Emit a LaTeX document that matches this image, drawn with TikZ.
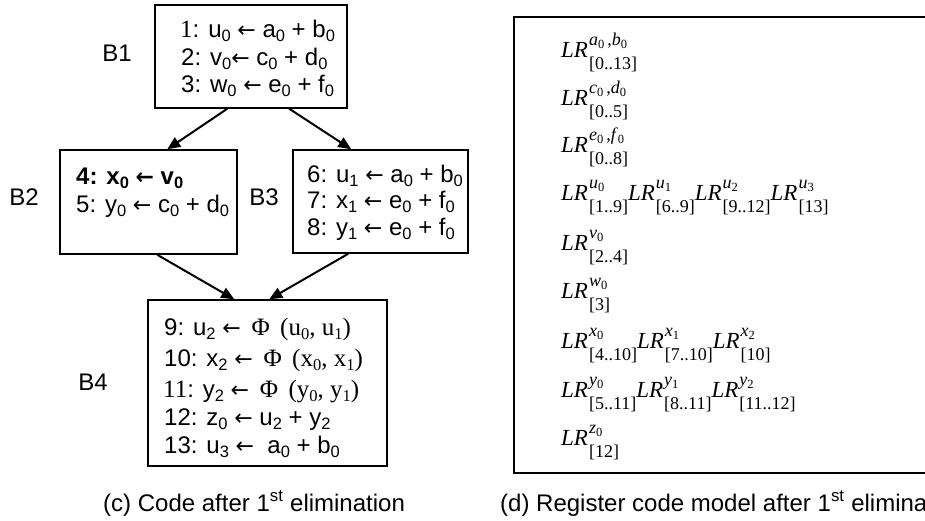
\documentclass[tikz,border=0pt]{standalone}
\usepackage{fontspec}
\setmainfont{Liberation Serif}
\newfontfamily\arial{Liberation Sans}
\newfontfamily\arrowfont{DejaVu Sans}
\usetikzlibrary{arrows.meta}

% subscript digit in the code listings
\newcommand\cs[1]{\raisebox{-4pt}{\fontsize{16.5}{17}\selectfont #1}}
% assignment arrow
\newcommand\ga{{\arrowfont\fontsize{22}{26}\selectfont ←}}
% serif part of a code line (digits, Phi and its arguments)
\newcommand\tm[1]{{\rmfamily\fontsize{25}{28}\selectfont #1}}
% variable with index, as used in the live-range scripts
\newcommand\vs[2]{\textit{#1}\raisebox{-3pt}{\fontsize{12.5}{13}\selectfont #2}}
% live range: LR with variables above and interval below
\newcommand\LRterm[2]{{\itshape LR}\kern1pt%
  \setbox0\hbox{\fontsize{18}{19}\selectfont\raisebox{12pt}{#1}}%
  \setbox2\hbox{\fontsize{18}{19}\selectfont\raisebox{-12.5pt}{#2}}%
  \ifdim\wd0>\wd2 \rlap{\box2}\box0\else\rlap{\box0}\box2\fi}

\begin{document}
\begin{tikzpicture}[x=1pt,y=-1pt,
  block/.style={draw, line width=1.5pt, rectangle, inner sep=0pt},
  code/.style={anchor=base west, inner sep=0pt, font=\arial\fontsize{24}{28}\selectfont},
  blabel/.style={inner sep=0pt, font=\arial\fontsize{24}{28}\selectfont},
  lr/.style={anchor=base west, inner sep=0pt, font=\rmfamily\fontsize{23}{26}\selectfont},
  caption/.style={anchor=base west, inner sep=0pt, font=\arial\fontsize{24}{28}\selectfont},
  flow/.style={line width=2pt, -{Triangle[length=13pt,width=11pt]}}]
\path[use as bounding box] (0,0) rectangle (925,520);

% basic blocks
\node[block, minimum width=192pt, minimum height=103pt] (b1) at (251,56.5) {};
\node[block, minimum width=177pt, minimum height=104pt] (b2) at (148.5,202) {};
\node[block, minimum width=175pt, minimum height=103pt] (b3) at (380.5,201.5) {};
\node[block, minimum width=239pt, minimum height=166pt] (b4) at (267.5,383) {};

% block names
\node[blabel] (nb1) at (117,53) {B1};
\node[blabel] (nb2) at (24,197) {B2};
\node[blabel] (nb3) at (264,197) {B3};
\node[blabel] (nb4) at (93,382) {B4};

% B1
\node[code] (l1) at (180,37) {\tm{1}: u\cs0 \ga\ a\cs0 + b\cs0};
\node[code] (l2) at (181,65) {2: v\cs0\ga\ c\cs0 + d\cs0};
\node[code] (l3) at (181,92) {3: w\cs0 \ga\ e\cs0 + f\cs0};
% B2
\node[code] (l4) at (76,184) {\bfseries 4: x\cs0 {\bfseries\ga}\ v\cs0};
\node[code] (l5) at (76,212) {5: y\cs0 \ga\ c\cs0 + d\cs0};
% B3
\node[code] (l6) at (307,182) {6: u\cs1 \ga\ a\cs0 + b\cs0};
\node[code] (l7) at (307,208) {7: x\cs1 \ga\ e\cs0 + f\cs0};
\node[code] (l8) at (307,235) {8: y\cs1 \ga\ e\cs0 + f\cs0};
% B4
\node[code] (l9) at (164,335) {9: u\cs2 \ga\ \tm{\,Φ\, (u\cs0, u\cs1)}};
\node[code] (l10) at (164,366) {10: x\cs2 \ga\ \tm{\,Φ\, (x\cs0, x\cs1)}};
\node[code] (l11) at (163,397) {\tm{11}: y\cs2 \ga\ \tm{\,Φ\, (y\cs0, y\cs1)}};
\node[code] (l12) at (164,425) {12: z\cs0 \ga\ u\cs2 + y\cs2};
\node[code] (l13) at (164,453) {13: u\cs3 \ga\ \ a\cs0 + b\cs0};

% control flow edges
\draw[flow] ([xshift=73pt]b1.south west) -- ([xshift=108pt]b2.north west);
\draw[flow] ([xshift=135pt]b1.south west) -- ([xshift=59pt]b3.north west);
\draw[flow] ([xshift=98pt]b2.south west) -- ([xshift=87pt]b4.north west);
\draw[flow] ([xshift=56pt]b3.south west) -- ([xshift=122pt]b4.north west);

% register code model
\node[block, minimum width=421pt, minimum height=456pt] (model) at (724.5,245) {};
\node[lr] (r1) at (561,57) {\LRterm{\vs{a}{0}\hspace{3pt},\vs{b}{0}}{[0..13]}};
\node[lr] (r2) at (561,105) {\LRterm{\vs{c}{0}\hspace{3pt},\vs{d}{0}}{[0..5]}};
\node[lr] (r3) at (561,152) {\LRterm{\vs{e}{0}\hspace{3pt},\vs{f}{0}}{[0..8]}};
\node[lr] (r4) at (561,200) {\LRterm{\vs{u}{0}}{[1..9]}\LRterm{\vs{u}{1}}{[6..9]}\LRterm{\vs{u}{2}}{[9..12]}\LRterm{\vs{u}{3}}{[13]}};
\node[lr] (r5) at (561,250) {\LRterm{\vs{v}{0}}{[2..4]}};
\node[lr] (r6) at (561,298) {\LRterm{\vs{w}{0}}{[3]}};
\node[lr] (r7) at (561,348) {\LRterm{\vs{x}{0}}{[4..10]}\LRterm{\vs{x}{1}}{[7..10]}\LRterm{\vs{x}{2}}{[10]}};
\node[lr] (r8) at (561,397) {\LRterm{\vs{y}{0}}{[5..11]}\LRterm{\vs{y}{1}}{[8..11]}\LRterm{\vs{y}{2}}{[11..12]}};
\node[lr] (r9) at (561,445) {\LRterm{\vs{z}{0}}{[12]}};

% captions
\node[caption] (capc) at (103,511) {(c) Code after 1\textsuperscript{st} elimination};
\node[caption] (capd) at (500,511) {(d) Register code model after 1\textsuperscript{st} elimination};
\end{tikzpicture}
\end{document}
